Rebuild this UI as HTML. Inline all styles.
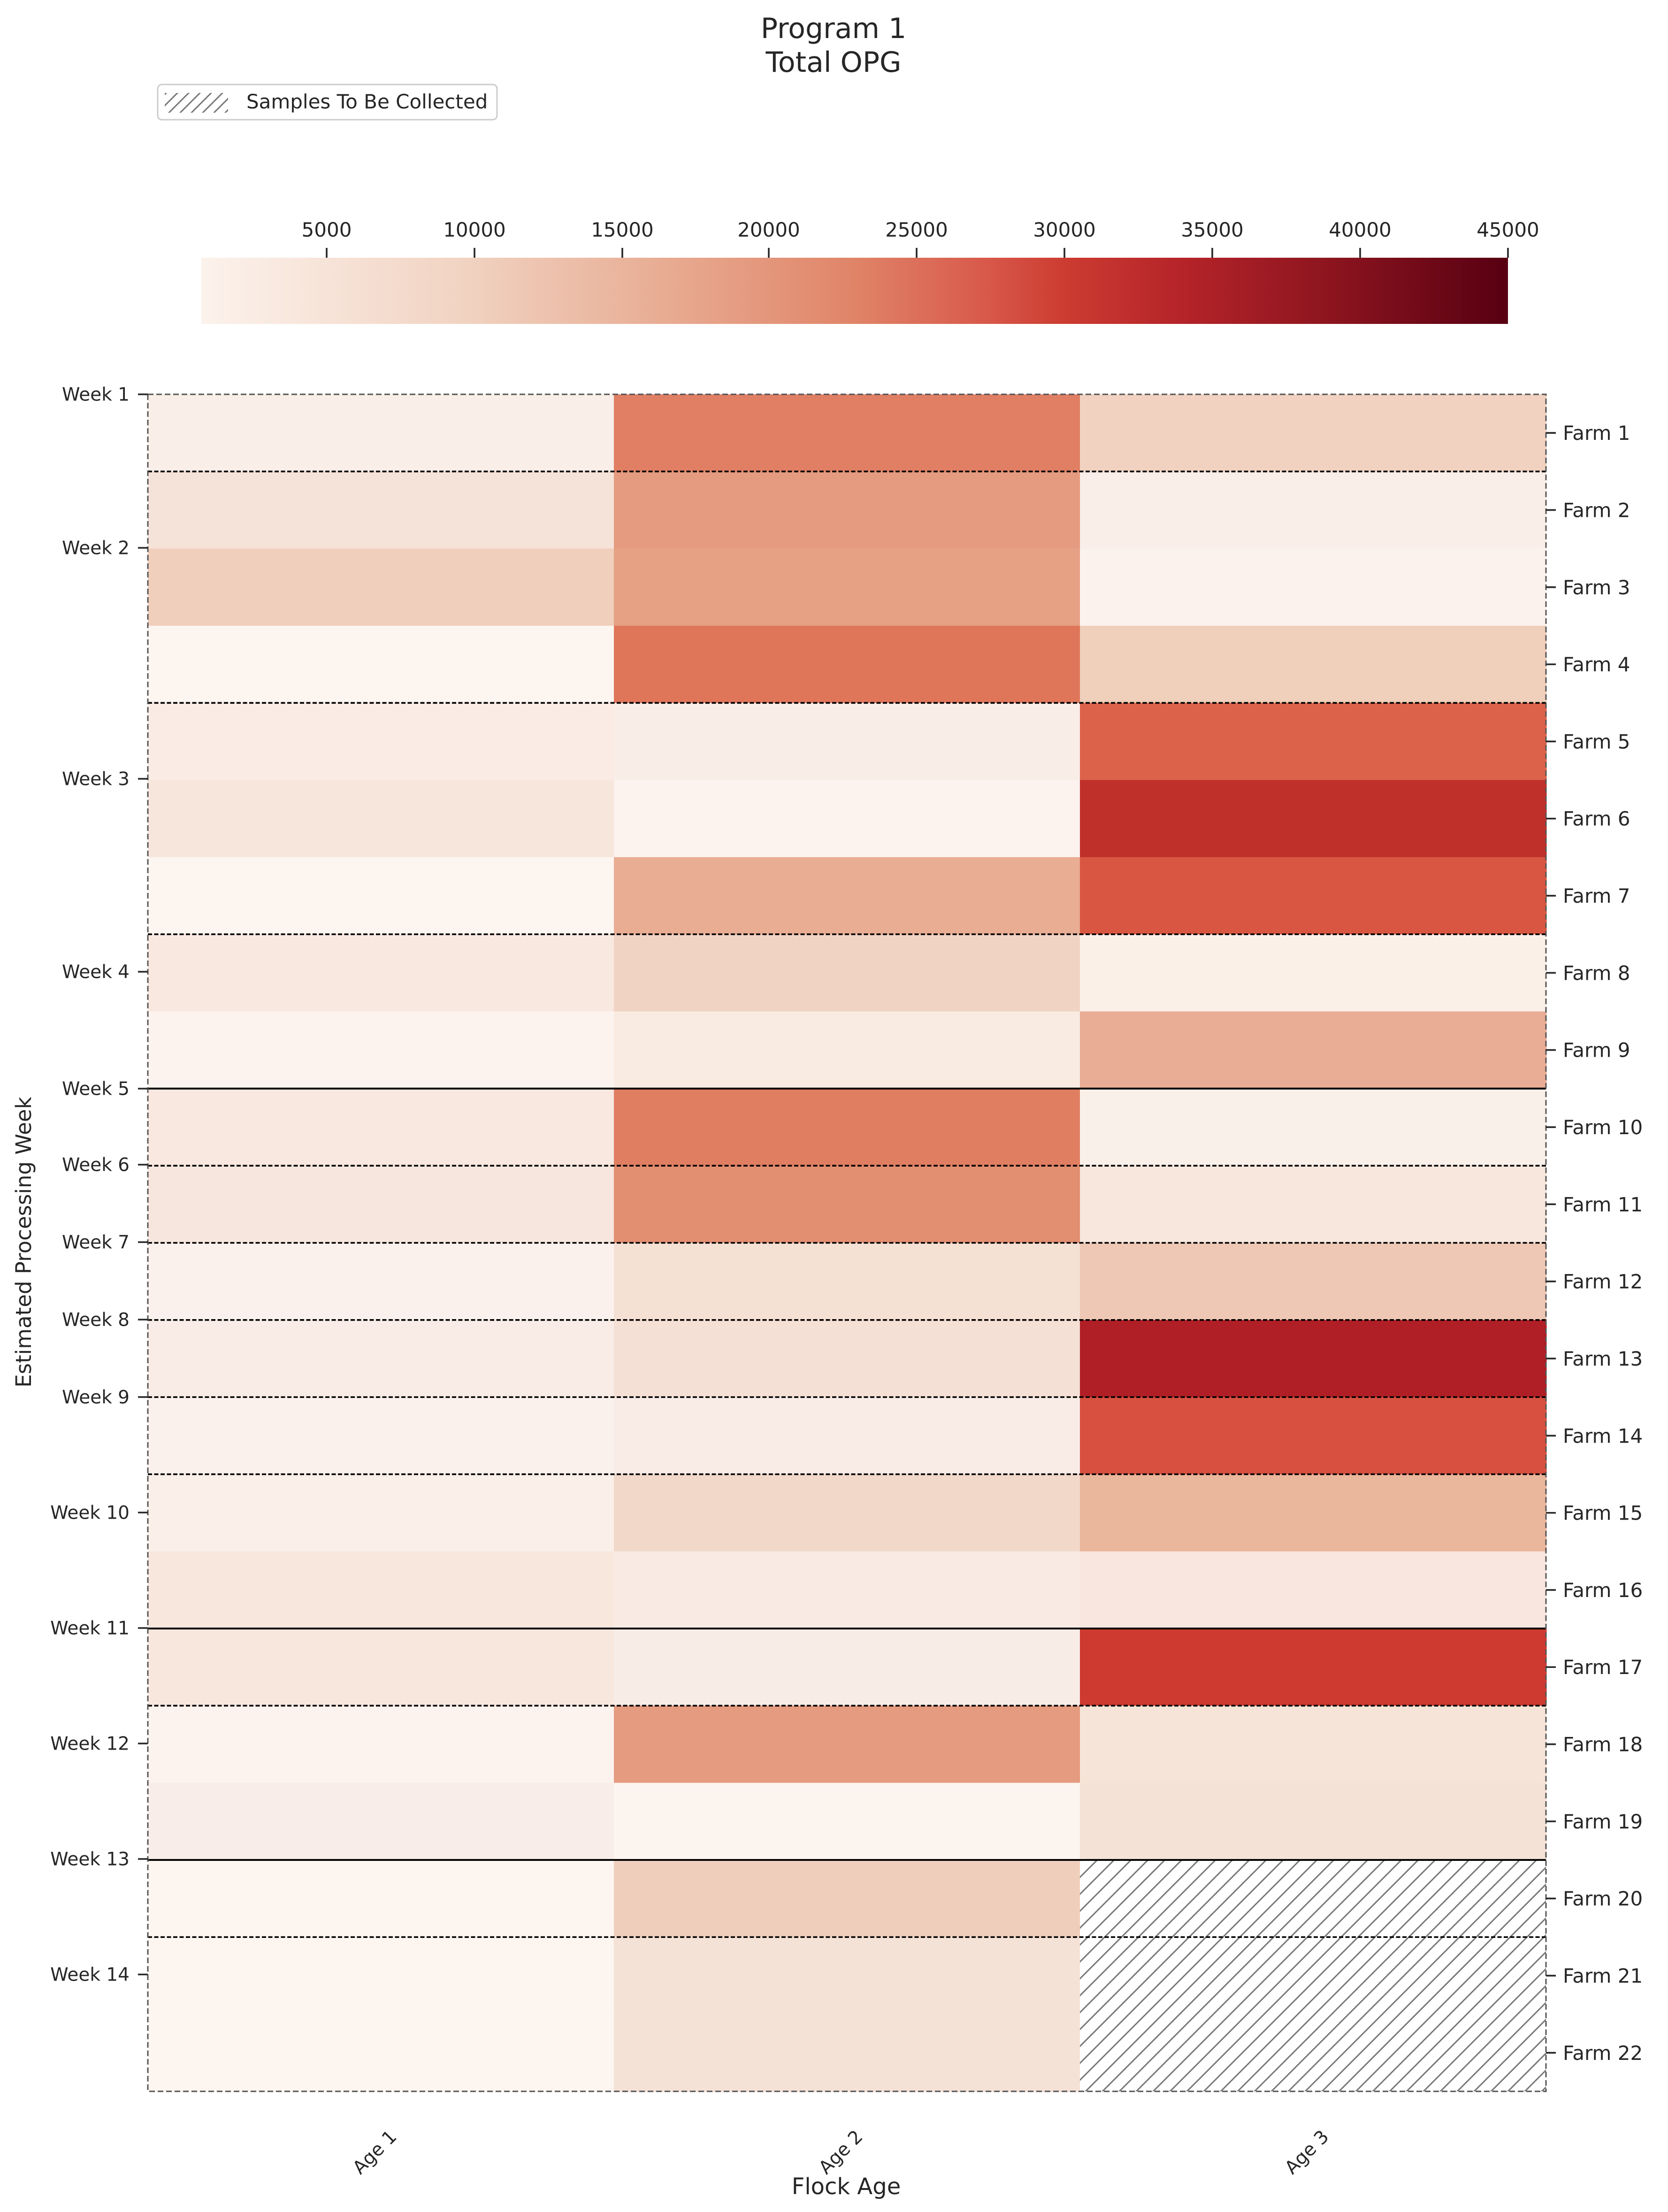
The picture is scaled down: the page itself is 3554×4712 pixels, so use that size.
<!DOCTYPE html>
<html><head><meta charset="utf-8"><style>html,body{margin:0;padding:0;background:#fff}svg{display:block}</style></head>
<body>
<svg xmlns="http://www.w3.org/2000/svg" width="3554" height="4712" viewBox="0 0 1184.667 1570.667" font-family="'DejaVu Sans','Liberation Sans',sans-serif" fill="#262626">
<defs>
<linearGradient id="cb2" x1="0" x2="1" y1="0" y2="0">
<stop offset="0" stop-color="#fcf2ec"/>
<stop offset="0.2" stop-color="#f1d3c2"/>
<stop offset="0.35" stop-color="#e8ad94"/>
<stop offset="0.5" stop-color="#e08468"/>
<stop offset="0.6" stop-color="#d8594a"/>
<stop offset="0.66" stop-color="#cc3c31"/>
<stop offset="0.75" stop-color="#b52429"/>
<stop offset="0.86" stop-color="#8e151f"/>
<stop offset="1" stop-color="#570012"/>
</linearGradient>
<pattern id="h" patternUnits="userSpaceOnUse" width="12" height="12">
<path d="M-1,13 L13,-1 M-2,2 L2,-2 M10,14 L14,10" stroke="#777" stroke-width="1"/>
</pattern>
<pattern id="h2" patternUnits="userSpaceOnUse" width="8" height="8">
<path d="M-1,9 L9,-1 M-2,2 L2,-2 M6,10 L10,6" stroke="#777" stroke-width="1"/>
</pattern>
</defs>
<text x="592" y="27" font-size="20" text-anchor="middle">Program 1</text>
<text x="592" y="51" font-size="20" text-anchor="middle">Total OPG</text>
<rect x="112" y="60" width="241" height="25" rx="3" fill="#fff" stroke="#ccc"/>
<rect x="117" y="66" width="45" height="14" fill="url(#h2)"/>
<text x="175" y="77" font-size="14">Samples To Be Collected</text>
<rect x="143" y="183" width="928" height="47" fill="url(#cb2)"/>
<g stroke="#262626" stroke-width="1.2">
<line x1="232" y1="176" x2="232" y2="183"/><line x1="337" y1="176" x2="337" y2="183"/><line x1="442" y1="176" x2="442" y2="183"/><line x1="546" y1="176" x2="546" y2="183"/><line x1="651" y1="176" x2="651" y2="183"/><line x1="756" y1="176" x2="756" y2="183"/><line x1="861" y1="176" x2="861" y2="183"/><line x1="966" y1="176" x2="966" y2="183"/><line x1="1071" y1="176" x2="1071" y2="183"/>
</g>
<g font-size="14" text-anchor="middle">
<text x="232" y="168">5000</text><text x="337" y="168">10000</text><text x="442" y="168">15000</text><text x="546" y="168">20000</text><text x="651" y="168">25000</text><text x="756" y="168">30000</text><text x="861" y="168">35000</text><text x="966" y="168">40000</text><text x="1071" y="168">45000</text>
</g>
<g id="cells"></g>
<script>
var C=[["#f9eee8","#e07f63","#f1d2c1"],["#f5e2d8","#e59b7f","#f9eee8"],["#f0cfbc","#e6a084","#fbf2ed"],["#fdf5f0","#df765a","#f0cfbb"],["#faebe5","#f9ede8","#dc634a"],["#f7e6dc","#fcf2ee","#c0302b"],["#fdf5f0","#e9ad93","#d95742"],["#f8e8df","#f1d3c3","#fbf0e8"],["#fcf3ee","#f9ebe2","#e8ad94"],["#f8e8e0","#e07e62","#faf0ea"],["#f7e6dd","#e28e71","#f7e7dc"],["#fbf1ec","#f5e0d4","#efc8b5"],["#f9ece6","#f5e0d5","#b01f26"],["#fbf1ec","#f9ece7","#d75040"],["#faefe9","#f2d8c9","#eab69c"],["#f7e7dd","#f9ebe3","#f8e6df"],["#f7e7dd","#f8ece7","#ce3a2f"],["#fcf3ee","#e59b7f","#f6e4d8"],["#f8ede8","#fcf4ef","#f5e2d6"],["#fdf5f0","#efcfbc",null],["#fdf5f0","#f5e2d7",null],["#fdf5f0","#f5e2d7",null]];
var ns="http://www.w3.org/2000/svg",g=document.getElementById("cells"),x0=105,cw=331,y0=280,rh=1205/22;
function el(t,a,txt){var e=document.createElementNS(ns,t);for(var k in a)e.setAttribute(k,a[k]);if(txt)e.textContent=txt;g.appendChild(e);return e;}
for(var r=0;r<22;r++)for(var c=0;c<3;c++){var col=C[r][c];el("rect",{x:x0+c*cw,y:y0+r*rh,width:cw+0.5,height:rh+0.5,fill:col||"#fff"});}
el("rect",{x:x0+2*cw,y:y0+19*rh,width:cw,height:3*rh,fill:"url(#h)"});
var solid=[9,16,19],dash=[1,4,7,10,11,12,13,14,17,20];
solid.forEach(function(r){el("line",{x1:x0,x2:x0+3*cw,y1:y0+r*rh,y2:y0+r*rh,stroke:"#000","stroke-width":1.3});});
dash.forEach(function(r){el("line",{x1:x0,x2:x0+3*cw,y1:y0+r*rh,y2:y0+r*rh,stroke:"#000","stroke-width":1.2,"stroke-dasharray":"3,1.5"});});
el("rect",{x:x0,y:y0,width:3*cw,height:1205,fill:"none",stroke:"#555","stroke-width":1,"stroke-dasharray":"4,2"});
var W=[[1,280],[2,389],[3,553],[4,690],[5,773],[6,827],[7,882],[8,937],[9,992],[10,1074],[11,1156],[12,1238],[13,1320],[14,1402]];
W.forEach(function(w){el("line",{x1:98,x2:105,y1:w[1],y2:w[1],stroke:"#262626","stroke-width":1.2});el("text",{x:92,y:w[1]+4.5,"font-size":13,"text-anchor":"end"},"Week "+w[0]);});
for(var r=0;r<22;r++){var y=y0+(r+0.5)*rh;el("line",{x1:1098,x2:1105,y1:y,y2:y,stroke:"#262626","stroke-width":1.2});el("text",{x:1110,y:y+5,"font-size":14},"Farm "+(r+1));}
["Age 1","Age 2","Age 3"].forEach(function(a,i){var cx=x0+(i+0.5)*cw+12;el("text",{x:cx,y:1518,"font-size":13,"text-anchor":"end",transform:"rotate(-45 "+cx+" 1518)"},a);});
el("text",{x:601,y:1558,"font-size":16,"text-anchor":"middle"},"Flock Age");
el("text",{x:22,y:882,"font-size":15,"text-anchor":"middle",transform:"rotate(-90 22 882)"},"Estimated Processing Week");
</script>
</svg>
</body></html>
